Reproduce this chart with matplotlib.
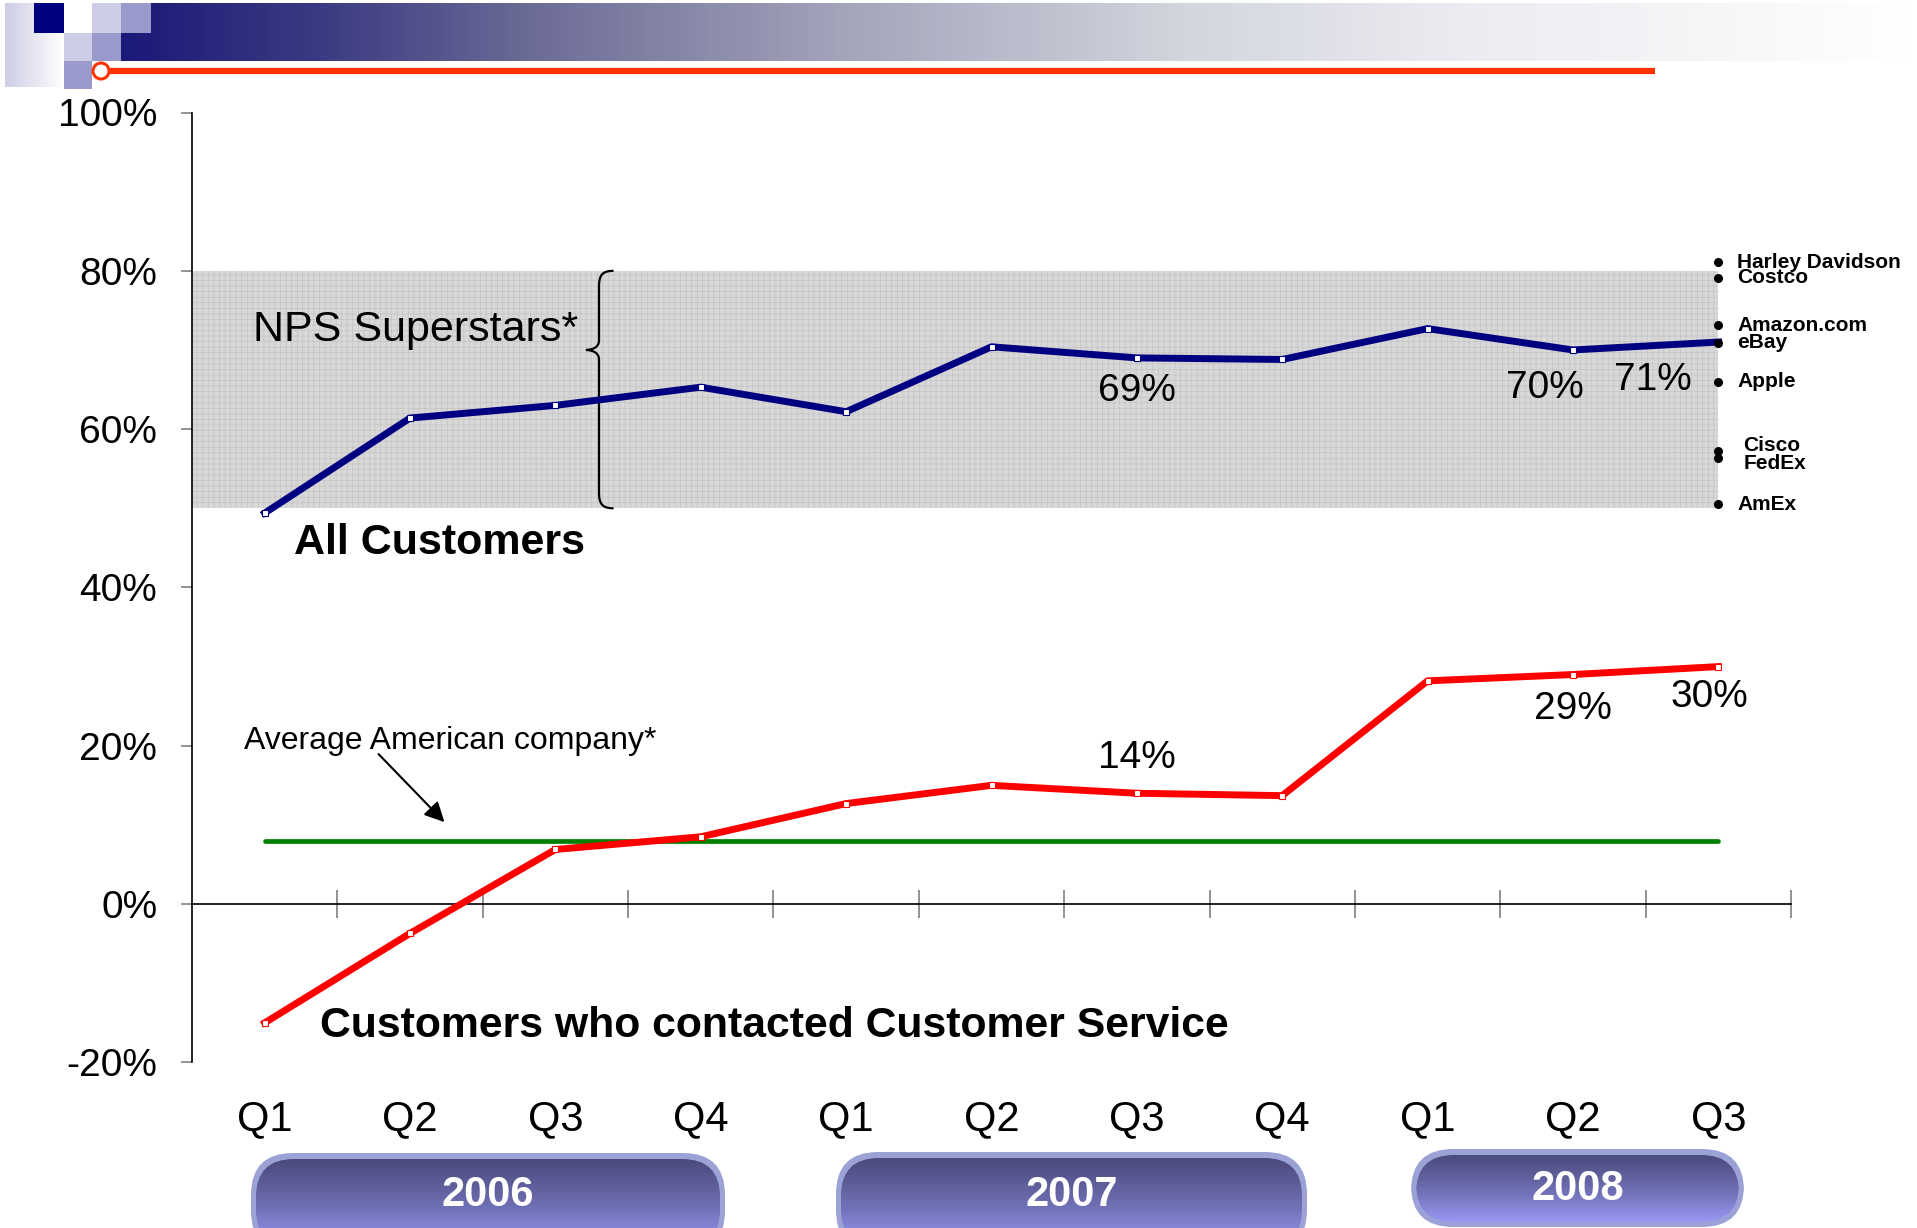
import numpy as np
import matplotlib
matplotlib.use("Agg")
import matplotlib.pyplot as plt
from matplotlib.patches import Rectangle, FancyBboxPatch, PathPatch, Circle
from matplotlib.path import Path
from matplotlib.colors import LinearSegmentedColormap
from matplotlib.ticker import FuncFormatter

plt.rcParams['font.family'] = ['Liberation Sans', 'DejaVu Sans']
plt.rcParams['hatch.linewidth'] = 0.5
plt.rcParams['hatch.color'] = '#c4c4c4'

NARROW = ['Liberation Sans Narrow', 'Liberation Sans', 'DejaVu Sans']

# quarterly NPS, percent
quarters = ["Q1", "Q2", "Q3", "Q4", "Q1", "Q2", "Q3", "Q4", "Q1", "Q2", "Q3"]
years = ["2006", "2007", "2008"]
all_customers = [49.4, 61.4, 63.0, 65.3, 62.2, 70.4, 69, 68.8, 72.7, 70, 71]
contacted_cs = [-15.0, -3.7, 6.9, 8.5, 12.7, 15.0, 14, 13.7, 28.2, 29, 30]
average_company = 8.0
superstar_band = [50, 80]

companies = ["Harley Davidson", "Costco", "Amazon.com", "eBay", "Apple",
             "Cisco", "FedEx", "AmEx"]
company_nps = [81.1, 79.1, 73.1, 70.9, 66.0, 57.2, 56.4, 50.5]

# which points get a value label, with label offsets (dx in quarters, dy in %)
blue_labels = {6: (0.0, -4.2), 9: (-0.19, -4.75), 10: (-0.45, -4.8)}
red_labels = {6: (0.0, 4.5), 9: (0.0, -4.4), 10: (-0.06, -3.8)}
company_dy = {"Cisco": 6, "FedEx": -6}

W, H = 1917, 1228
fig = plt.figure(figsize=(W / 100, H / 100), dpi=100)

# overlay in pixel coordinates for the header bar and the year buttons
deco = fig.add_axes([0, 0, 1, 1])
deco.set_xlim(0, W)
deco.set_ylim(H, 0)
deco.axis('off')

# header gradient bar
x0, x1 = 121, W
stops = [(x0, '#1a1a78'), (333, '#3e3e84'), (520, '#6a6a96'), (850, '#a5a5bb'),
         (1190, '#d3d6de'), (1440, '#eaeaf0'), (x1, '#ffffff')]
cmap = LinearSegmentedColormap.from_list(
    'hdr', [((x - x0) / (x1 - x0), c) for x, c in stops])
deco.imshow(np.linspace(0, 1, 400)[None, :], cmap=cmap, aspect='auto',
            extent=(x0, x1, 61, 3), zorder=1)

# checkered logo corner
fade = LinearSegmentedColormap.from_list('fade', ['#cdcde6', '#ffffff'])
deco.imshow(np.linspace(0, 1, 50)[None, :], cmap=fade, aspect='auto',
            extent=(5, 64, 87, 3), zorder=1)
squares = [(34, 3, 30, 30, '#000080'), (64, 3, 28, 30, '#ffffff'),
           (92, 3, 29, 30, '#ccccE6'), (121, 3, 30, 30, '#9999cc'),
           (64, 33, 28, 28, '#ccccE6'), (92, 33, 29, 28, '#9999cc'),
           (64, 61, 28, 28, '#9999cc')]
for sx, sy, sw, sh, sc in squares:
    deco.add_patch(Rectangle((sx, sy), sw, sh, facecolor=sc, edgecolor='none', zorder=2))
deco.plot([101, 1655], [71, 71], color='#ff3300', lw=4.5, solid_capstyle='butt', zorder=3)
deco.add_patch(Circle((101, 71), 8, facecolor='white', edgecolor='#ff3300', lw=2.2, zorder=4))

# year buttons
pills = [(251, 1153, 474, 100), (836, 1152, 471, 100), (1411, 1149, 333, 78)]
text_y = [1195, 1195, 1189]
pill_cmap = LinearSegmentedColormap.from_list('pill', ['#4b4a7c', '#6c6cb0', '#9898f4'])
for (px, py, pw, ph), ty, yr in zip(pills, text_y, years):
    outer = FancyBboxPatch((px, py), pw, ph, boxstyle="round,pad=0,rounding_size=42",
                           facecolor='#9aa2d6', edgecolor='none', zorder=2)
    deco.add_patch(outer)
    inner = FancyBboxPatch((px + 5, py + 6), pw - 10, ph - 11,
                           boxstyle="round,pad=0,rounding_size=38",
                           facecolor='none', edgecolor='none', zorder=3)
    deco.add_patch(inner)
    im = deco.imshow(np.linspace(0, 1, 100)[:, None], cmap=pill_cmap, aspect='auto',
                     extent=(px + 5, px + pw - 5, py + ph - 5, py + 6), zorder=3)
    im.set_clip_path(inner)
    deco.text(px + pw / 2, ty, yr, color='white', fontsize=30,
              fontweight='bold', ha='center', va='center', family=NARROW, zorder=5)

# main chart
ax = fig.add_axes([192 / W, (H - 1062.4) / H, 1599 / W, (1062.4 - 112.5) / H])
ax.set_facecolor('none')
x = np.arange(len(quarters))
ax.set_xlim(-0.5, len(quarters) - 0.5)
ax.set_ylim(-20, 100)

ax.add_patch(Rectangle((-0.5, superstar_band[0]), len(quarters) - 0.5,
                       superstar_band[1] - superstar_band[0], facecolor='#d8d8d8',
                       edgecolor='#c4c4c4', hatch='+++', lw=0, zorder=0))

# brace for the superstar band
bx, lo, hi = 2.30, superstar_band[0], superstar_band[1]
mid = 70.0
verts = [(bx + 0.10, hi), (bx + 0.02, hi), (bx, hi - 0.6), (bx, hi - 2.0),
         (bx, mid + 1.2),
         (bx, mid + 0.3), (bx - 0.05, mid), (bx - 0.09, mid),
         (bx - 0.05, mid), (bx, mid - 0.3), (bx, mid - 1.2),
         (bx, lo + 2.0),
         (bx, lo + 0.6), (bx + 0.02, lo), (bx + 0.10, lo)]
codes = [Path.MOVETO, Path.CURVE4, Path.CURVE4, Path.CURVE4, Path.LINETO,
         Path.CURVE4, Path.CURVE4, Path.CURVE4, Path.CURVE4, Path.CURVE4, Path.CURVE4,
         Path.LINETO, Path.CURVE4, Path.CURVE4, Path.CURVE4]
ax.add_patch(PathPatch(Path(verts, codes), facecolor='none', edgecolor='black', lw=1.6, zorder=3))

ax.plot([x[0], x[-1]], [average_company, average_company], color='#008000', lw=3.4,
        solid_capstyle='round', zorder=2)
ax.plot(x, all_customers, color='#000080', lw=5, marker='s', ms=4, mfc='white',
        mec='#000080', mew=0.8, zorder=4)
ax.plot(x, contacted_cs, color='#ff0000', lw=5, marker='s', ms=4, mfc='white',
        mec='#ff0000', mew=0.8, zorder=4)

for i, (dx, dy) in blue_labels.items():
    ax.text(x[i] + dx, all_customers[i] + dy, f"{all_customers[i]:.0f}%", fontsize=28,
            ha='center', va='center', zorder=5)
for i, (dx, dy) in red_labels.items():
    ax.text(x[i] + dx, contacted_cs[i] + dy, f"{contacted_cs[i]:.0f}%", fontsize=28,
            ha='center', va='center', zorder=5)

# benchmark companies on the right edge
ax.scatter([x[-1]] * len(companies), company_nps, s=30, color='black', zorder=5, clip_on=False)
for name, v in zip(companies, company_nps):
    xoff = 25 if name in company_dy else 19
    ax.annotate(name, (x[-1], v), xytext=(xoff, company_dy.get(name, 0)),
                textcoords='offset pixels', fontsize=15, fontweight='bold',
                ha='left', va='center', annotation_clip=False)

ax.text(-0.08, 72.5, "NPS Superstars*", fontsize=31, ha='left', va='center', zorder=5)
ax.text(0.2, 45.6, "All Customers", fontsize=31, fontweight='bold', ha='left', va='center')
ax.text(0.38, -15.4, "Customers who contacted Customer Service", fontsize=30.8,
        fontweight='bold', ha='left', va='center')
ax.text(-0.14, 20.6, "Average American company*", fontsize=23, ha='left', va='center',
        family=NARROW)
ax.annotate("", xy=(1.25, 10.1), xytext=(0.77, 19.2),
            arrowprops=dict(arrowstyle='-|>', color='black', lw=1.5, mutation_scale=30))

# quarter labels under the plot
for xi, q in zip(x, quarters):
    ax.text(xi, -0.0593, q, transform=ax.get_xaxis_transform(), fontsize=30,
            ha='center', va='center', family=NARROW)

# axes styling
for s in ['top', 'right']:
    ax.spines[s].set_visible(False)
ax.spines['bottom'].set_position(('data', 0))
ax.spines['left'].set_linewidth(1.2)
ax.spines['bottom'].set_linewidth(1.2)
ax.set_yticks(np.arange(-20, 101, 20))
ax.yaxis.set_major_formatter(FuncFormatter(lambda v, p: f"{v:.0f}%"))
ax.tick_params(axis='y', direction='out', length=8, width=1.2, color='#808080',
               labelsize=28, pad=17)
ax.set_xticks(np.arange(0.5, len(quarters), 1))
ax.set_xticklabels([])
ax.tick_params(axis='x', direction='inout', length=20, width=1.2, color='#808080')

fig.savefig("out.png", dpi=100)
